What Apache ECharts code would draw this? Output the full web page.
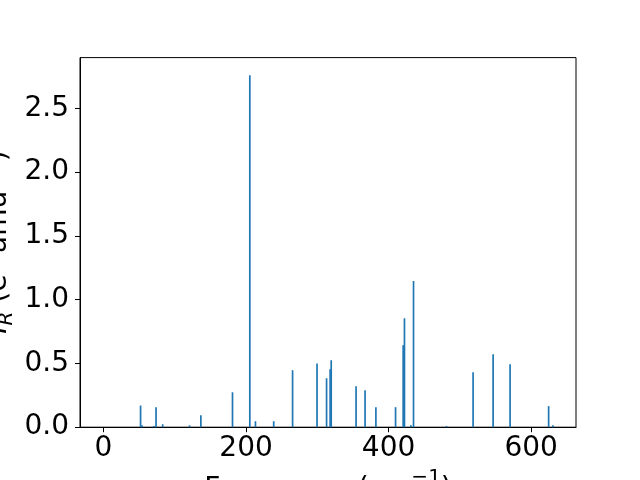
<!DOCTYPE html>
<html>
<head>
<meta charset="utf-8">
<script src="https://cdn.jsdelivr.net/npm/echarts@6/dist/echarts.min.js"></script>
<style>html,body{margin:0;padding:0;background:#fff;}#c{width:640px;height:480px;}</style>
</head>
<body>
<div id="c"></div>
<script>
// Frequencies (cm^-1) and IR intensities
const frequencies = [52.0, 54.0, 70.6, 73.7, 83.0, 120.7, 136.6, 181.0, 205.3, 213.2, 238.8, 265.3, 299.6, 313.0, 318.0, 319.5, 354.4, 367.0, 382.2, 409.8, 420.5, 422.3, 431.3, 435.0, 481.3, 518.6, 546.7, 570.5, 624.6, 630.6];
const intensities = [0.170, 0.015, 0.010, 0.157, 0.023, 0.015, 0.094, 0.274, 2.759, 0.047, 0.047, 0.447, 0.500, 0.384, 0.455, 0.525, 0.321, 0.290, 0.157, 0.157, 0.643, 0.854, 0.015, 1.146, 0.010, 0.431, 0.572, 0.494, 0.165, 0.015];
const xTicks = [0, 200, 400, 600];
const yTicks = [0, 0.5, 1.0, 1.5, 2.0, 2.5];

const font = 'DejaVu Sans';
const chart = echarts.init(document.getElementById('c'), null, {renderer: 'canvas'});
const data = frequencies.map((f, i) => [f, intensities[i]]);

chart.setOption({
  animation: false,
  backgroundColor: '#fff',
  grid: {left: 80, right: 64, top: 57.6, bottom: 52.8, show: true, borderColor: '#000', borderWidth: 1, containLabel: false},
  xAxis: {
    type: 'value', min: -33, max: 663,
    axisLine: {show: true, onZero: false, lineStyle: {color: '#000', width: 1}},
    axisTick: {show: true, customValues: xTicks, length: 5, lineStyle: {color: '#000', width: 1}},
    axisLabel: {customValues: xTicks, fontFamily: font, fontSize: 28, color: '#000', margin: 8, formatter: v => String(v)},
    splitLine: {show: false}
  },
  yAxis: {
    type: 'value', min: 0, max: 2.898,
    axisLine: {show: true, onZero: false, lineStyle: {color: '#000', width: 1}},
    axisTick: {show: true, customValues: yTicks, length: 5, lineStyle: {color: '#000', width: 1}},
    axisLabel: {customValues: yTicks, fontFamily: font, fontSize: 28, color: '#000', margin: 11, formatter: v => v.toFixed(1)},
    splitLine: {show: false}
  },
  series: [{
    type: 'bar',
    data: data,
    barWidth: 1.7,
    itemStyle: {color: '#1f77b4'}
  }],
  graphic: [
    {
      type: 'text', x: 328, y: 468,
      style: {
        text: '{n|Frequency (cm}{s|−1}{n|)}',
        textAlign: 'center', textVerticalAlign: 'top',
        rich: {
          n: {fontFamily: font, fontSize: 28, lineHeight: 36, verticalAlign: 'bottom', fill: '#000'},
          s: {fontFamily: font, fontSize: 20, lineHeight: 36, verticalAlign: 'top', fill: '#000'}
        }
      }
    },
    {
      type: 'text', x: 17, y: 242, rotation: Math.PI / 2,
      style: {
        text: '{i|I}{b|R}{n| (e}{s|2}{n| amu}{s|−1}{n|)}',
        textAlign: 'center', textVerticalAlign: 'bottom',
        rich: {
          i: {fontFamily: font, fontStyle: 'italic', fontSize: 28, lineHeight: 36, verticalAlign: 'middle', fill: '#000'},
          b: {fontFamily: font, fontStyle: 'italic', fontSize: 20, lineHeight: 36, verticalAlign: 'bottom', fill: '#000'},
          n: {fontFamily: font, fontSize: 28, lineHeight: 36, verticalAlign: 'middle', fill: '#000'},
          s: {fontFamily: font, fontSize: 20, lineHeight: 36, verticalAlign: 'top', fill: '#000'}
        }
      }
    }
  ]
});
</script>
</body>
</html>
